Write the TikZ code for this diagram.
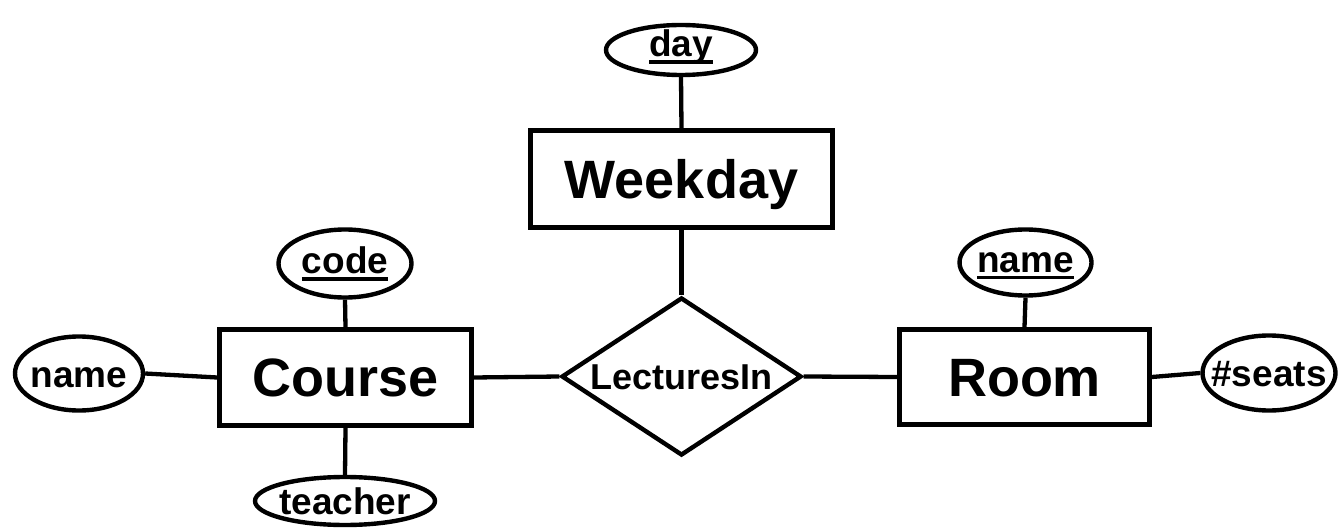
\documentclass[tikz,border=0pt]{standalone}
\usepackage{fontspec}
\setmainfont{Liberation Sans}
\usetikzlibrary{shapes.geometric}
\newcommand\keyattr[1]{\setbox0=\hbox{#1}\rlap{\rule[-7pt]{\wd0}{3.5pt}}\box0}
\newcommand\ctr[1]{\makebox[0pt]{#1}}
\tikzset{
  er/.style={draw=black, line width=4.8pt, inner sep=0pt, fill=white},
  entity/.style={er, rectangle, font=\fontsize{54}{60}\selectfont\bfseries, text height=38.7pt, text depth=0pt},
  attr/.style={er, ellipse, line width=4.4pt, font=\fontsize{37}{44}\selectfont\bfseries, text height=27pt, text depth=0pt},
  keyat/.style={attr, text depth=7pt},
  rel/.style={er, diamond, line width=4.4pt, font=\fontsize{36}{42}\selectfont\bfseries, text height=25.8pt, text depth=0pt},
  link/.style={line width=4.3pt}
}
\begin{document}
\begin{tikzpicture}[x=1pt, y=-1pt]
\useasboundingbox (0,0) rectangle (1340,529);
\node[entity, minimum width=302pt, minimum height=97pt] (weekday) at (681.5,179) {Weekday};
\node[entity, minimum width=252pt, minimum height=96pt] (course) at (345.5,377.5) {Course};
\node[entity, minimum width=250pt, minimum height=95pt] (room) at (1024.5,377) {Room};
\node[rel, minimum width=240pt, minimum height=158pt] (lect) at (681.5,376.5) {\ctr{LecturesIn}};
\node[attr, minimum width=150pt, minimum height=50pt] (day) at (681,50) {\ctr{\raisebox{6.5pt}{\keyattr{day}}}};
\node[keyat, minimum width=133pt, minimum height=68pt] (code) at (345,263.5) {\ctr{\keyattr{code}}};
\node[attr, minimum width=128pt, minimum height=74pt] (cname) at (79,373.5) {\ctr{name}};
\node[attr, minimum width=180pt, minimum height=48pt] (teacher) at (345,501) {\ctr{teacher}};
\node[keyat, minimum width=132pt, minimum height=66pt] (rname) at (1025.5,262.5) {\ctr{\keyattr{name}}};
\node[attr, minimum width=133pt, minimum height=75pt] (seats) at (1269,373) {\ctr{\#seats}};
\draw[link] (day.south) -- (weekday.north);
\draw[link] (weekday.south) -- (lect.north);
\draw[link] (code.south) -- (course.north);
\draw[link] (course.south) -- (teacher.north);
\draw[link] (cname.east) -- (course.west);
\draw[link] (course.east) -- (lect.west);
\draw[link] (lect.east) -- (room.west);
\draw[link] (room.east) -- (seats.west);
\draw[link] (rname.south) -- (room.north);
\end{tikzpicture}
\end{document}
